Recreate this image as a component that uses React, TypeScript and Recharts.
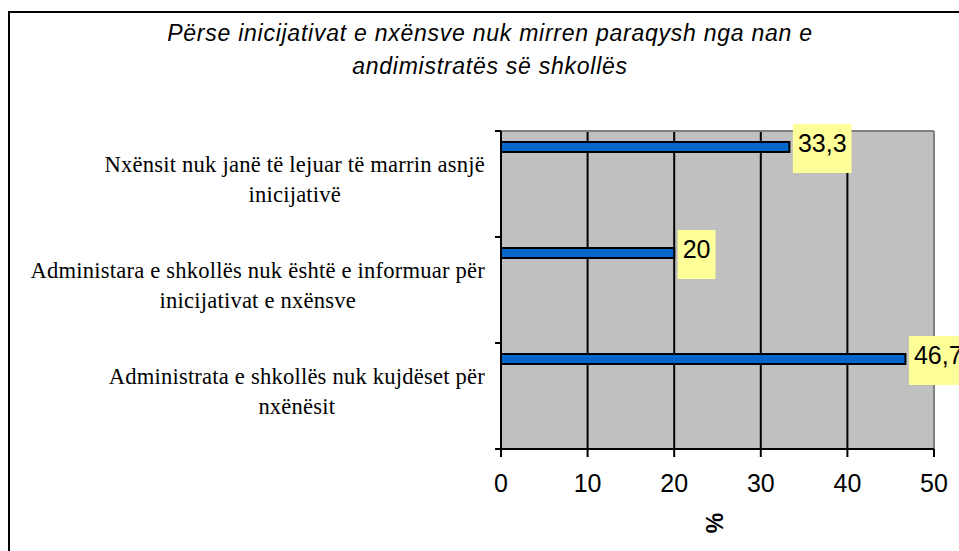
import React from 'react';
import { BarChart, Bar, XAxis, YAxis, CartesianGrid, LabelList, ReferenceLine, Label } from 'recharts';

const titleLines = [
  'Përse inicijativat e nxënsve nuk mirren paraqysh nga nan e',
  'andimistratës së shkollës',
];
const categories = [
  'Nxënsit nuk janë të lejuar të marrin asnjë\ninicijativë',
  'Administara e shkollës nuk është e informuar për\ninicijativat e nxënsve',
  'Administrata e shkollës nuk kujdëset për\nnxënësit',
];
const values = [33.3, 20, 46.7];
const spacer = [0, 0, 0];
const xTicks = [0, 10, 20, 30, 40, 50];
const axisTitle = '%';

const data = categories.map((c, i) => ({ name: c, value: values[i], spacer: spacer[i] }));

const SANS = '"Liberation Sans", Arial, sans-serif';
const SERIF = '"Liberation Serif", "Times New Roman", serif';
const CAT_SIZE = 22.6;
const CAT_SPACING = 0.2;
const LABEL_SIZE = 25;
const Y_TICK_SIZE = 6;
const Y_TICK_MARGIN = 10;

let ctx: CanvasRenderingContext2D | null = null;
function measure(text: string, font: string, spacing: number): number {
  if (!ctx) ctx = document.createElement('canvas').getContext('2d');
  if (!ctx) return text.length * 10;
  ctx.font = font;
  return ctx.measureText(text).width + spacing * text.length;
}

const CategoryTick = (props: any) => {
  const { x, y, payload, index, visibleTicksCount } = props;
  const lines = String(payload.value).split('\n');
  const widths = lines.map((l) => measure(l, `${CAT_SIZE}px "Liberation Serif"`, CAT_SPACING));
  const maxW = Math.max(...widths);
  const cx = x - maxW / 2;
  const half = typeof payload.offset === 'number' ? payload.offset : 0;
  const axisX = x + Y_TICK_SIZE + Y_TICK_MARGIN;
  const count = visibleTicksCount ?? categories.length;
  const marks = [y - half];
  if (index === count - 1) marks.push(y + half);
  return (
    <g>
      {half > 0 &&
        marks.map((my, i) => (
          <line key={`m${i}`} x1={axisX - Y_TICK_SIZE} x2={axisX} y1={my} y2={my} stroke="#000" strokeWidth={2} />
        ))}
      {lines.map((l, i) => (
        <text
          key={i}
          x={cx}
          y={y - 12.5 + i * 30}
          textAnchor="middle"
          fill="#000"
          style={{ fontFamily: SERIF, fontSize: CAT_SIZE, letterSpacing: CAT_SPACING }}
        >
          {l}
        </text>
      ))}
    </g>
  );
};

const DataLabel = (props: any) => {
  const { x, y, width, height, value } = props;
  const text = String(value).replace('.', ',');
  const tw = measure(text, `${LABEL_SIZE}px "Liberation Sans"`, 0);
  const bx = Number(x) + Number(width) + 3.5;
  const cy = Number(y) + Number(height) / 2;
  return (
    <g>
      <rect x={bx} y={cy - 23} width={tw + 10} height={49} fill="#FFFF99" />
      <text x={bx + 5} y={cy + 5} fill="#000" style={{ fontFamily: SANS, fontSize: LABEL_SIZE }}>
        {text}
      </text>
    </g>
  );
};

const PercentTitle = (props: any) => {
  const vb = props.viewBox || {};
  const cx = vb.x + vb.width / 2 - 3;
  const cy = vb.y + 74;
  return (
    <text
      x={cx}
      y={cy}
      transform={`rotate(-90, ${cx}, ${cy})`}
      textAnchor="middle"
      dominantBaseline="central"
      fill="#000"
      style={{ fontFamily: SANS, fontSize: 23, fontWeight: 'bold' }}
    >
      {axisTitle}
    </text>
  );
};

export default function App() {
  return (
    <div
      style={{
        position: 'fixed',
        left: 0,
        top: 0,
        width: 959,
        height: 551,
        overflow: 'hidden',
        background: '#fff',
      }}
    >
      <div
        style={{
          position: 'absolute',
          left: 8,
          top: 11,
          width: 1000,
          height: 600,
          borderLeft: '2px solid #000',
          borderTop: '2px solid #000',
        }}
      >
        <BarChart
          width={1000}
          height={580}
          data={data}
          layout="vertical"
          margin={{ top: 118, right: 76, bottom: 54, left: 0 }}
          barGap={0}
        >
          <CartesianGrid
            horizontal={false}
            vertical={true}
            stroke="#000"
            strokeWidth={2}
            fill="#C0C0C0"
            fillOpacity={1}
          />
          <XAxis
            type="number"
            domain={[0, 50]}
            ticks={xTicks}
            interval={0}
            tickSize={8}
            tickMargin={17}
            height={90}
            axisLine={{ stroke: '#000', strokeWidth: 2 }}
            tickLine={{ stroke: '#000', strokeWidth: 2 }}
            tick={{ fill: '#000', fontSize: 25, fontFamily: SANS }}
          >
            <Label content={PercentTitle} />
          </XAxis>
          <YAxis
            type="category"
            dataKey="name"
            width={491}
            interval={0}
            axisLine={{ stroke: '#000', strokeWidth: 2 }}
            tickLine={false}
            tickSize={Y_TICK_SIZE}
            tickMargin={Y_TICK_MARGIN}
            tick={(p: any) => <CategoryTick {...p} />}
          />
          <Bar dataKey="value" fill="#0066CC" stroke="#000" strokeWidth={2} barSize={10} isAnimationActive={false}>
            <LabelList dataKey="value" content={DataLabel} />
          </Bar>
          <Bar dataKey="spacer" fill="none" stroke="none" barSize={74} isAnimationActive={false} />
          <ReferenceLine x={50} stroke="#808080" strokeWidth={2} />
          <ReferenceLine y={categories[0]} position="start" stroke="#808080" strokeWidth={2} />
        </BarChart>
      </div>
      <div
        style={{
          position: 'absolute',
          left: 0,
          top: 17,
          width: 980,
          textAlign: 'center',
          fontFamily: SANS,
          fontStyle: 'italic',
          fontSize: 23,
          letterSpacing: 0.75,
          lineHeight: '33px',
          color: '#000',
        }}
      >
        {titleLines.map((t, i) => (
          <div key={i}>{t}</div>
        ))}
      </div>
    </div>
  );
}
